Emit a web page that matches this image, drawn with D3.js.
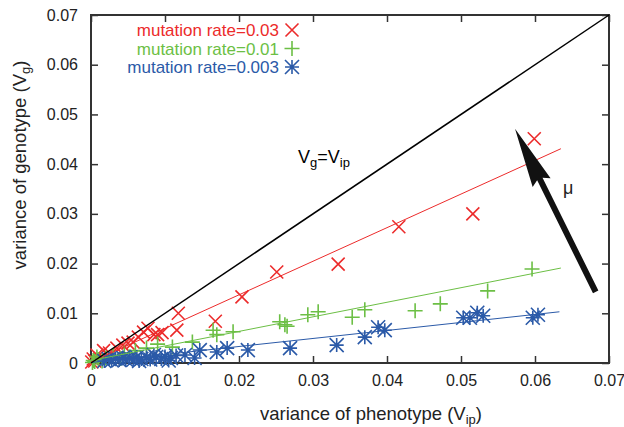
<!doctype html>
<html>
  <head>
    <script src="https://cdn.jsdelivr.net/npm/d3@7"></script>
    <style>
      body { margin: 0; background: #fff; }
      text { font-family: "Liberation Sans", Arial, sans-serif; }
    </style>
  </head>
  <body>
    <script>
      // chart size and plot box
      var w_svg = 624;
      var h_svg = 427;
      var left = 91, right = 609, top_ = 15, bottom = 363;

      // tick values
      var x_ticks = [0, 0.01, 0.02, 0.03, 0.04, 0.05, 0.06, 0.07];
      var y_ticks = [0, 0.01, 0.02, 0.03, 0.04, 0.05, 0.06, 0.07];

      // legend labels
      var series_names = ["mutation rate=0.03", "mutation rate=0.01", "mutation rate=0.003"];
      var series_colors = ["#ec2b2b", "#6cbf45", "#2b5aa8"];

      // mutation rate 0.03 (x = Vip, y = Vg)
      var red_vip = [0.0599, 0.0516, 0.0416, 0.0334, 0.0251, 0.0204, 0.0168, 0.0118, 0.0116, 0.0096,
                     0.0085, 0.0077, 0.0071, 0.0064, 0.0057, 0.0050, 0.0043, 0.0035, 0.0025, 0.0017,
                     0.0012, 0.0008, 0.0005, 0.0003, 0.0001, 0.0090];
      var red_vg  = [0.0451, 0.0300, 0.0274, 0.0199, 0.0183, 0.0133, 0.0084, 0.0100, 0.0066, 0.0061,
                     0.0057, 0.0070, 0.0062, 0.0052, 0.0042, 0.0040, 0.0036, 0.0030, 0.0020, 0.0025,
                     0.0010, 0.0016, 0.0004, 0.0008, 0.0002, 0.0057];

      // mutation rate 0.01
      var green_vip = [0.0596, 0.0536, 0.0472, 0.0438, 0.0370, 0.0353, 0.0307, 0.0293, 0.0265, 0.0255,
                       0.0262, 0.0192, 0.0170, 0.0165, 0.0137, 0.0110, 0.0090, 0.0075, 0.0060, 0.0052,
                       0.0045, 0.0040, 0.0030, 0.0020, 0.0015, 0.0010, 0.0008, 0.0005, 0.0003, 0.0002];
      var green_vg  = [0.0189, 0.0145, 0.0119, 0.0105, 0.0107, 0.0092, 0.0103, 0.0097, 0.0074, 0.0083,
                       0.0077, 0.0063, 0.0057, 0.0066, 0.0042, 0.0032, 0.0038, 0.0030, 0.0025, 0.0012,
                       0.0020, 0.0009, 0.0015, 0.0010, 0.0004, 0.0007, 0.0012, 0.0003, 0.0005, 0.0001];

      // mutation rate 0.003
      var blue_vip = [0.0604, 0.0597, 0.0530, 0.0522, 0.0512, 0.0503, 0.0397, 0.0388, 0.0370, 0.0332,
                      0.0269, 0.0212, 0.0184, 0.0170, 0.0147, 0.0140, 0.0127, 0.0115, 0.0108, 0.0105,
                      0.0100, 0.0095, 0.0088, 0.0085, 0.0080, 0.0075, 0.0068, 0.0065, 0.0062, 0.0057,
                      0.0052, 0.0047, 0.0043, 0.0038, 0.0033, 0.0028, 0.0024, 0.0018];
      var blue_vg  = [0.0097, 0.0091, 0.0095, 0.0101, 0.0091, 0.0091, 0.0066, 0.0072, 0.0052, 0.0036,
                      0.0030, 0.0026, 0.0030, 0.0022, 0.0026, 0.0010, 0.0016, 0.0015, 0.0010, 0.0005,
                      0.0013, 0.0008, 0.0012, 0.0016, 0.0007, 0.0011, 0.0008, 0.0004, 0.0012, 0.0006,
                      0.0010, 0.0007, 0.0011, 0.0006, 0.0009, 0.0005, 0.0008, 0.0004];

      // fitted lines, end points
      var red_fit   = [[0, 0.0002], [0.0635, 0.0431]];
      var green_fit = [[0, 0.0005], [0.0635, 0.0191]];
      var blue_fit  = [[0, 0.0001], [0.0633, 0.0103]];
      var diag_line = [[0, 0], [0.07, 0.07]];

      // arrow for increasing mu (tail, tip)
      var mu_arrow = [[0.0682, 0.0143], [0.0573, 0.0471]];

      var svg = d3.select("body")
                  .append("svg")
                  .attr("width", w_svg)
                  .attr("height", h_svg);

      var x = d3.scaleLinear().domain([0, 0.07]).range([left, right]);
      var y = d3.scaleLinear().domain([0, 0.07]).range([bottom, top_]);

      var fmt = function(d){ return d === 0 ? "0" : d3.format(".2f")(d); };

      // axes, ticks point inward on every side
      svg.append("g")
         .attr("transform", "translate(0," + bottom + ")")
         .call(d3.axisBottom(x).tickValues(x_ticks).tickSizeInner(-7).tickSizeOuter(0).tickPadding(12).tickFormat(fmt));
      svg.append("g")
         .attr("transform", "translate(0," + top_ + ")")
         .call(d3.axisTop(x).tickValues(x_ticks).tickSizeInner(-7).tickSizeOuter(0).tickFormat(""));
      svg.append("g")
         .attr("transform", "translate(" + left + ",0)")
         .call(d3.axisLeft(y).tickValues(y_ticks).tickSizeInner(-7).tickSizeOuter(0).tickPadding(13).tickFormat(fmt));
      svg.append("g")
         .attr("transform", "translate(" + right + ",0)")
         .call(d3.axisRight(y).tickValues(y_ticks).tickSizeInner(-7).tickSizeOuter(0).tickFormat(""));

      svg.selectAll(".domain").remove();
      svg.selectAll(".tick line").attr("stroke", "#333").attr("stroke-width", 1.5);
      svg.selectAll(".tick text")
         .attr("font-size", 16)
         .attr("fill", "#222")
         .attr("font-family", "Liberation Sans, Arial, sans-serif");

      // frame
      svg.append("rect")
         .attr("x", left).attr("y", top_)
         .attr("width", right - left).attr("height", bottom - top_)
         .attr("fill", "none").attr("stroke", "#333").attr("stroke-width", 2);

      // markers
      var sz = 6.5;
      function cross(g, cx, cy, col){
        g.append("path")
         .attr("d", "M" + (cx - sz) + "," + (cy - sz) + "L" + (cx + sz) + "," + (cy + sz) +
                    "M" + (cx - sz) + "," + (cy + sz) + "L" + (cx + sz) + "," + (cy - sz))
         .attr("stroke", col).attr("stroke-width", 1.6).attr("fill", "none");
      }
      function plus(g, cx, cy, col){
        var s = sz + 1;
        g.append("path")
         .attr("d", "M" + (cx - s) + "," + cy + "L" + (cx + s) + "," + cy +
                    "M" + cx + "," + (cy - s) + "L" + cx + "," + (cy + s))
         .attr("stroke", col).attr("stroke-width", 1.6).attr("fill", "none");
      }
      function star(g, cx, cy, col){
        var s = sz + 0.5;
        g.append("path")
         .attr("d", "M" + (cx - s) + "," + cy + "L" + (cx + s) + "," + cy +
                    "M" + cx + "," + (cy - s) + "L" + cx + "," + (cy + s) +
                    "M" + (cx - s) + "," + (cy - s) + "L" + (cx + s) + "," + (cy + s) +
                    "M" + (cx - s) + "," + (cy + s) + "L" + (cx + s) + "," + (cy - s))
         .attr("stroke", col).attr("stroke-width", 1.6).attr("fill", "none");
      }

      var pts = svg.append("g");
      red_vip.forEach(function(d, i){ cross(pts, x(d), y(red_vg[i]), series_colors[0]); });
      green_vip.forEach(function(d, i){ plus(pts, x(d), y(green_vg[i]), series_colors[1]); });
      blue_vip.forEach(function(d, i){ star(pts, x(d), y(blue_vg[i]), series_colors[2]); });

      // lines
      var line = d3.line().x(function(d){ return x(d[0]); }).y(function(d){ return y(d[1]); });
      [[red_fit, series_colors[0]], [green_fit, series_colors[1]], [blue_fit, series_colors[2]], [diag_line, "#000"]]
        .forEach(function(p){
          svg.append("path").attr("d", line(p[0]))
             .attr("stroke", p[1]).attr("stroke-width", p[1] === "#000" ? 1.5 : 1).attr("fill", "none");
        });

      // legend
      var leg = svg.append("g");
      series_names.forEach(function(n, i){
        var ly = 30 + i * 18.5;
        leg.append("text").text(n)
           .attr("x", 279).attr("y", ly + 6)
           .attr("text-anchor", "end")
           .attr("font-size", 17)
           .attr("fill", series_colors[i]);
        [cross, plus, star][i](leg, 292, ly, series_colors[i]);
      });

      // arrow
      var ax0 = x(mu_arrow[0][0]), ay0 = y(mu_arrow[0][1]);
      var ax1 = x(mu_arrow[1][0]), ay1 = y(mu_arrow[1][1]);
      var ang = Math.atan2(ay1 - ay0, ax1 - ax0);
      var len = Math.hypot(ax1 - ax0, ay1 - ay0);
      var ag = svg.append("g")
                  .attr("transform", "translate(" + ax0 + "," + ay0 + ") rotate(" + (ang * 180 / Math.PI) + ")");
      ag.append("path")
        .attr("d", "M0,-3L" + (len - 56) + ",-3L" + (len - 60) + ",-10L" + len + ",0L" +
                   (len - 60) + ",10L" + (len - 56) + ",3L0,3Z")
        .attr("fill", "#111");

      svg.append("text")
         .attr("x", 563).attr("y", 194)
         .attr("font-size", 18)
         .attr("fill", "#222")
         .text("\u03bc");

      // Vg = Vip label
      var lab = svg.append("text")
                   .attr("x", 298).attr("y", 163)
                   .attr("font-size", 18)
                   .attr("fill", "#000");
      lab.append("tspan").text("V");
      lab.append("tspan").text("g").attr("font-size", 13).attr("dy", 4);
      lab.append("tspan").text("=V").attr("dy", -4);
      lab.append("tspan").text("ip").attr("font-size", 13).attr("dy", 4);

      // axis titles
      var xt = svg.append("text")
                  .attr("x", 371).attr("y", 420)
                  .attr("text-anchor", "middle")
                  .attr("font-size", 18.5)
                  .attr("fill", "#222");
      xt.append("tspan").text("variance of phenotype (V");
      xt.append("tspan").text("ip").attr("font-size", 13).attr("dy", 4);
      xt.append("tspan").text(")").attr("dy", -4);

      var yt = svg.append("text")
                  .attr("transform", "translate(26,165) rotate(-90)")
                  .attr("text-anchor", "middle")
                  .attr("font-size", 18.5)
                  .attr("fill", "#222");
      yt.append("tspan").text("variance of genotype (V");
      yt.append("tspan").text("g").attr("font-size", 13).attr("dy", 4);
      yt.append("tspan").text(")").attr("dy", -4);
    </script>
  </body>
</html>
